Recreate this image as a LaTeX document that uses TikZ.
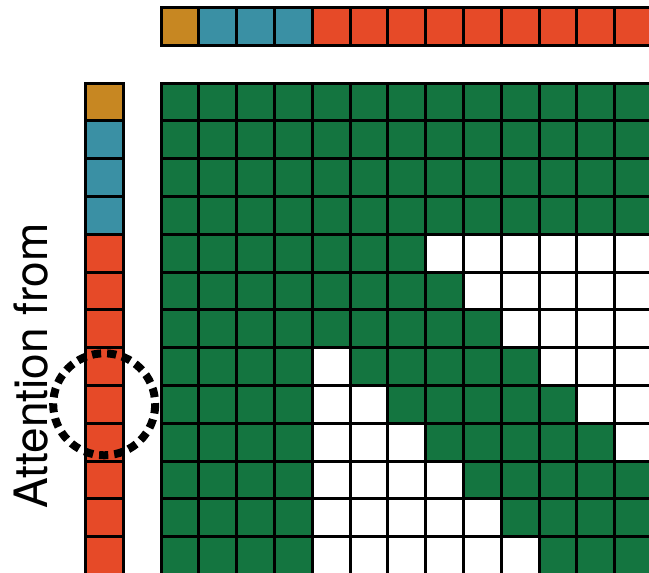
\documentclass[tikz,border=0pt]{standalone}
\usepackage{fontspec}
\newfontfamily\labelfont{TeX Gyre Heros}
\definecolor{tokorange}{HTML}{C78722}
\definecolor{tokteal}{HTML}{3A90A4}
\definecolor{tokred}{HTML}{E64A28}
\definecolor{tokgreen}{HTML}{147540}
\begin{document}
\begin{tikzpicture}[x=1pt,y=-1pt,
  cellbox/.style={draw=black,line width=3pt},
  focusring/.style={draw=black,line width=8pt,dash pattern=on 9.2pt off 6pt}]
\useasboundingbox (0,0) rectangle (649,573);
\begin{scope}
\clip (0,0) rectangle (649,573);
% top key bar
\foreach \c/\col in {0/tokorange,1/tokteal,2/tokteal,3/tokteal,4/tokred,5/tokred,6/tokred,7/tokred,8/tokred,9/tokred,10/tokred,11/tokred,12/tokred}{
  \path[cellbox,fill=\col] ({161+\c*37.8},7.7) rectangle ++(37.8,37.8);
}
% left query bar
\foreach \r/\col in {0/tokorange,1/tokteal,2/tokteal,3/tokteal,4/tokred,5/tokred,6/tokred,7/tokred,8/tokred,9/tokred,10/tokred,11/tokred,12/tokred}{
  \path[cellbox,fill=\col] (85.3,{83+\r*37.8}) rectangle ++(37.8,37.8);
}
% attention mask grid
\foreach \r in {0,...,12}{
  \foreach \c in {0,...,12}{
    \pgfmathtruncatemacro\iswhite{(\r>3)&&((\c>=\r+3)||((\c>=4)&&(\c<=\r-3)))}
    \ifnum\iswhite=1 \def\fc{white}\else\def\fc{tokgreen}\fi
    \path[cellbox,fill=\fc] ({161+\c*37.8},{83+\r*37.8}) rectangle ++(37.8,37.8);
  }
}
% focus ring
\draw[focusring] (104.2,404.3) circle (51);
\end{scope}
\node[rotate=90,anchor=base,inner sep=0pt,font=\labelfont\fontsize{46}{50}\selectfont] (label) at (47.5,366) {Attention from};
\end{tikzpicture}
\end{document}
